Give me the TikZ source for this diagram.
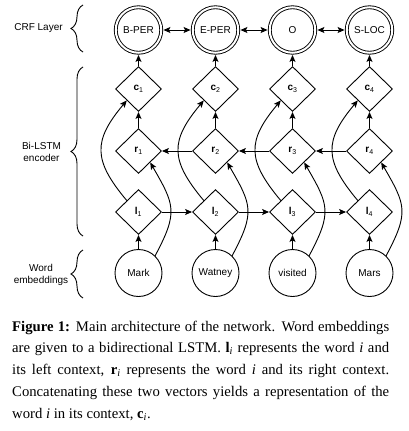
\documentclass[tikz,border=0pt]{standalone}
\usepackage{fontspec}
\setmainfont{Liberation Serif}
\setsansfont{Liberation Sans}
\usetikzlibrary{shapes.geometric,arrows.meta,decorations.pathreplacing}
\tikzset{
  every picture/.style={x=1pt,y=1pt},
  lw/.style={line width=0.9pt},
  tip/.style={-{Stealth[length=7pt,width=6pt,inset=1.5pt]}},
  dtip/.style={{Stealth[length=7pt,width=6pt,inset=1.5pt]}-{Stealth[length=7pt,width=6pt,inset=1.5pt]}},
  crf/.style={circle, draw, lw, double, double distance=2pt, minimum size=45.5pt, inner sep=0pt, outer sep=2.2pt, font=\sffamily\fontsize{10}{12}\selectfont},
  word/.style={circle, draw, lw, minimum size=47pt, inner sep=0pt, font=\sffamily\fontsize{10}{12}\selectfont},
  dia/.style={diamond, draw, lw, minimum width=46pt, minimum height=45pt, inner sep=0pt, font=\sffamily\fontsize{10}{12}\selectfont},
  lbl/.style={align=center, font=\sffamily\fontsize{10}{11.5}\selectfont, inner sep=0pt},
  brc/.style={lw, decorate, decoration={brace, amplitude=12pt}},
  conn/.style={lw, tip},
  curvy/.style={lw, tip, looseness=1.35}
}
\begin{document}
\begin{tikzpicture}
\useasboundingbox (0,0) rectangle (409,-431);
% CRF row
\node[crf] (t1) at (138.5,-30) {B-PER};
\node[crf] (t2) at (215.5,-30) {E-PER};
\node[crf] (t3) at (292.5,-30) {O};
\node[crf] (t4) at (369.5,-30) {S-LOC};
% c row
\node[dia] (c1) at (138.5,-89) {\textbf{c}\textsubscript{1}};
\node[dia] (c2) at (215.5,-89) {\textbf{c}\textsubscript{2}};
\node[dia] (c3) at (292.5,-89) {\textbf{c}\textsubscript{3}};
\node[dia] (c4) at (369.5,-89) {\textbf{c}\textsubscript{4}};
% r row
\node[dia] (r1) at (138.5,-151) {\textbf{r}\textsubscript{1}};
\node[dia] (r2) at (215.5,-151) {\textbf{r}\textsubscript{2}};
\node[dia] (r3) at (292.5,-151) {\textbf{r}\textsubscript{3}};
\node[dia] (r4) at (369.5,-151) {\textbf{r}\textsubscript{4}};
% l row
\node[dia] (l1) at (138.5,-212) {\textbf{l}\textsubscript{1}};
\node[dia] (l2) at (215.5,-212) {\textbf{l}\textsubscript{2}};
\node[dia] (l3) at (292.5,-212) {\textbf{l}\textsubscript{3}};
\node[dia] (l4) at (369.5,-212) {\textbf{l}\textsubscript{4}};
% words
\node[word] (w1) at (138.5,-273) {Mark};
\node[word] (w2) at (215.5,-273) {Watney};
\node[word] (w3) at (292.5,-273) {visited};
\node[word] (w4) at (369.5,-273) {Mars};
% CRF links
\draw[lw, dtip] (t1) -- (t2);
\draw[lw, dtip] (t2) -- (t3);
\draw[lw, dtip] (t3) -- (t4);
% vertical links
\foreach \i in {1,...,4}{
  \draw[conn] (c\i.north) -- (t\i.south);
  \draw[conn] (r\i.north) -- (c\i.south);
  \draw[conn] (w\i.north) -- (l\i.south);
  \draw[curvy] (l\i.north west) to[out=130, in=-130] (c\i.south west);
  \draw[curvy] (w\i.46) to[out=62, in=-60] (r\i.south east);
}
% horizontal LSTM links
\draw[conn] (l1.east) -- (l2.west);
\draw[conn] (l2.east) -- (l3.west);
\draw[conn] (l3.east) -- (l4.west);
\draw[conn] (r2.west) -- (r1.east);
\draw[conn] (r3.west) -- (r2.east);
\draw[conn] (r4.west) -- (r3.east);
% braces and labels
\coordinate (b1a) at (83,-52); \coordinate (b1b) at (83,-5);
\coordinate (b2a) at (83,-236); \coordinate (b2b) at (83,-67);
\coordinate (b3a) at (83,-298); \coordinate (b3b) at (83,-250);
\draw[brc] (b1a) -- (b1b);
\draw[brc] (b2a) -- (b2b);
\draw[brc] (b3a) -- (b3b);
\node[lbl] (L1) at (38.5,-28) {CRF Layer};
\node[lbl] (L2) at (41.5,-152) {Bi-LSTM\\encoder};
\node[lbl] (L3) at (41,-275) {Word\\embeddings};
% caption
\node[anchor=base west, inner sep=0pt, text width=377pt, align=justify,
      font=\fontsize{14.7}{21.8}\selectfont] (cap) at (12,-331)
{\hyphenpenalty=10000\hbadness=10000\textbf{Figure 1:} Main architecture of the network. Word embeddings\linebreak are given to a bidirectional LSTM. \textbf{l}\textsubscript{\textit{i}} represents the word \textit{i} and\linebreak its left context, \textbf{r}\textsubscript{\textit{i}} represents the word \textit{i} and its right context.\linebreak Concatenating these two vectors yields a representation of the\linebreak word \textit{i} in its context, \textbf{c}\textsubscript{\textit{i}}.};
\end{tikzpicture}
\end{document}
